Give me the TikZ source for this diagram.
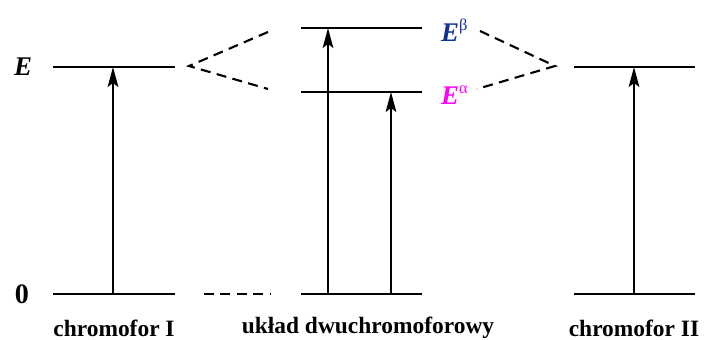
\documentclass[tikz,border=0pt]{standalone}
\usepackage{fontspec}
\setmainfont{Liberation Serif}
\usetikzlibrary{arrows.meta}
\definecolor{ebeta}{RGB}{20,50,150}
\definecolor{ealpha}{RGB}{255,0,255}
\begin{document}
\begin{tikzpicture}[x=0.03cm,y=-0.03cm,
  level/.style={line width=2.1pt},
  exc/.style={line width=1.5pt,-{Stealth[length=0.6cm,width=0.32cm,inset=0.12cm]}},
  corr/.style={line width=1.8pt,dash pattern=on 8.5pt off 5.5pt},
  lab/.style={font=\fontsize{20pt}{22pt}\selectfont\bfseries},
  elab/.style={font=\fontsize{23pt}{26pt}\selectfont\bfseries\itshape}]
\useasboundingbox (0,0) rectangle (706,340);
% coordinates
\coordinate (L1a) at (53,67);  \coordinate (L1b) at (175,67);
\coordinate (L0a) at (53,294); \coordinate (L0b) at (175,294);
\coordinate (Mba) at (301,28); \coordinate (Mbb) at (422,28);
\coordinate (Maa) at (301,92); \coordinate (Mab) at (422,92);
\coordinate (M0a) at (301,294); \coordinate (M0b) at (422,294);
\coordinate (R1a) at (574,67); \coordinate (R1b) at (695,67);
\coordinate (R0a) at (574,294); \coordinate (R0b) at (695,294);
\coordinate (D0a) at (204,294); \coordinate (D0b) at (270,294);
% levels
\draw[level] (L1a) -- (L1b);
\draw[level] (L0a) -- (L0b);
\draw[level] (Mba) -- (Mbb);
\draw[level] (Maa) -- (Mab);
\draw[level] (M0a) -- (M0b);
\draw[level] (R1a) -- (R1b);
\draw[level] (R0a) -- (R0b);
\draw[corr] (D0a) -- (D0b);
% correlation lines
\coordinate (VL) at (189,66);
\coordinate (VLu) at (268,32);
\coordinate (VLd) at (268,89);
\coordinate (VR) at (555,66);
\coordinate (VRu) at (480,31);
\coordinate (VRd) at (477,89);
\draw[corr] (VLu) -- (VL) -- (VLd);
\draw[corr] (VRu) -- (VR) -- (VRd);
% transitions
\coordinate (a1s) at (113,294); \coordinate (a1e) at (113,67);
\coordinate (a2s) at (328,294); \coordinate (a2e) at (328,28);
\coordinate (a3s) at (391,294); \coordinate (a3e) at (391,92);
\coordinate (a4s) at (634,294); \coordinate (a4e) at (634,67);
\draw[exc] (a1s) -- (a1e);
\draw[exc] (a2s) -- (a2e);
\draw[exc] (a3s) -- (a3e);
\draw[exc] (a4s) -- (a4e);
% labels
\node[elab] (E) at (23,67) {E};
\node[lab,font=\fontsize{24pt}{26pt}\selectfont\bfseries] (zero) at (22,294) {0};
\node[elab,text=ebeta,anchor=west,inner sep=0pt] (Eb) at (441,30) {E\textsuperscript{\normalfont\fontsize{14pt}{14pt}\selectfont β}};
\node[elab,text=ealpha,anchor=west,inner sep=0pt] (Ea) at (441,95) {E\textsuperscript{\normalfont\fontsize{14pt}{14pt}\selectfont α}};
\node[lab] (c1) at (114,328) {chromofor I};
\node[lab] (c2) at (368,328) {układ dwuchromoforowy};
\node[lab] (c3) at (634,328) {chromofor II};
\end{tikzpicture}
\end{document}
